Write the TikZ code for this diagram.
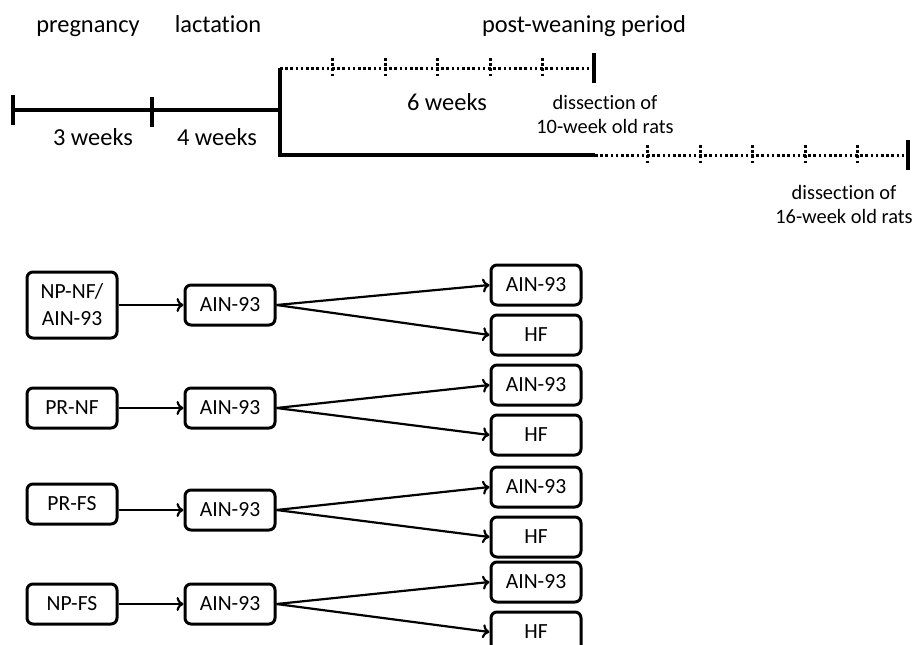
\documentclass[tikz,border=0pt]{standalone}
\usepackage{fontspec}
\setmainfont{Carlito}[Ligatures=NoCommon]
\usetikzlibrary{positioning}
\usetikzlibrary{arrows.meta}

\tikzset{
    diet/.style={draw, rounded corners=3pt, line width=1.5pt, minimum width=45pt,
                 minimum height=20pt, inner sep=2pt, align=center,
                 font=\fontsize{10.8}{13.5}\selectfont},
    period/.style={anchor=base, font=\fontsize{12.2}{14}\selectfont},
    dissect/.style={anchor=base, align=center, font=\fontsize{10.2}{12}\selectfont},
    timeline/.style={line width=1.7pt},
    dots/.style={line width=1.5pt, dash pattern=on 1.3pt off 1.3pt},
    feed/.style={-{To[length=3.5pt, width=7pt]}, line width=1.1pt},
}

\begin{document}
\begin{tikzpicture}[x=1pt, y=1pt]
    \useasboundingbox (0,0) rectangle (461,-322);

    % time line
    \draw [timeline] (6.5,-55) -- (140,-55);
    \draw [timeline] (6.5,-47.5) -- (6.5,-62.5);
    \draw [timeline] (76,-48.5) -- (76,-63.5);
    \draw [timeline] (140,-34) -- (140,-77.5) -- (297.5,-77.5);
    \draw [dots] (140,-34) -- (297,-34);
    \draw [timeline] (297,-26.5) -- (297,-41.5);
    \draw [dots] (297.5,-77.5) -- (454,-77.5);
    \draw [timeline] (454,-70) -- (454,-85);
    \foreach \w in {1,...,5} {
        \draw [dots] ({140+26.25*\w},-29) -- ++(0,-10);
        \draw [dots] ({297.5+26.25*\w},-72.5) -- ++(0,-10);
    }

    \node [period] (preg) at (44,-16) {pregnancy};
    \node [period] (lact) at (109,-16) {lactation};
    \node [period] (post) at (292,-16) {post-weaning period};
    \node [period] (w3) at (46.5,-72.5) {3 weeks};
    \node [period] (w4) at (108.5,-72.5) {4 weeks};
    \node [period] (w6) at (223.5,-55) {6 weeks};
    \node [dissect] (d10) at (302.5,-66.5) {dissection of\\10-week old rats};
    \node [dissect] (d16) at (422,-111.5) {dissection of\\16-week old rats};

    % diets
    \node [diet, minimum height=33pt] (npnf) at (36,-152.5) {NP-NF/\\AIN-93};
    \node [diet] (prnf) at (36,-204) {PR-NF};
    \node [diet] (prfs) at (36,-252) {PR-FS};
    \node [diet] (npfs) at (36,-302) {NP-FS};

    \node [diet, right=32.5pt of npnf] (mid1) {AIN-93};
    \node [diet, right=32.5pt of prnf] (mid2) {AIN-93};
    \node [diet, right=32.5pt of prfs, yshift=-3pt] (mid3) {AIN-93};
    \node [diet, right=32.5pt of npfs] (mid4) {AIN-93};

    \node [diet, right=106.5pt of mid1, yshift=10pt] (ain1) {AIN-93};
    \node [diet, below=3.5pt of ain1] (hf1) {HF};
    \node [diet, right=106.5pt of mid2, yshift=11.5pt] (ain2) {AIN-93};
    \node [diet, below=3.5pt of ain2] (hf2) {HF};
    \node [diet, right=106.5pt of mid3, yshift=11.5pt] (ain3) {AIN-93};
    \node [diet, below=3.5pt of ain3] (hf3) {HF};
    \node [diet, right=106.5pt of mid4, yshift=11pt] (ain4) {AIN-93};
    \node [diet, below=3.5pt of ain4] (hf4) {HF};

    \draw [feed] (npnf) -- (mid1);
    \draw [feed] (prnf) -- (mid2);
    \draw [feed] (prfs.east |- mid3) -- (mid3);
    \draw [feed] (npfs) -- (mid4);

    \draw [feed] (mid1.east) -- (ain1.west);
    \draw [feed] (mid1.east) -- (hf1.west);
    \draw [feed] (mid2.east) -- (ain2.west);
    \draw [feed] (mid2.east) -- (hf2.west);
    \draw [feed] (mid3.east) -- (ain3.west);
    \draw [feed] (mid3.east) -- (hf3.west);
    \draw [feed] (mid4.east) -- (ain4.west);
    \draw [feed] (mid4.east) -- (hf4.west);
\end{tikzpicture}
\end{document}
